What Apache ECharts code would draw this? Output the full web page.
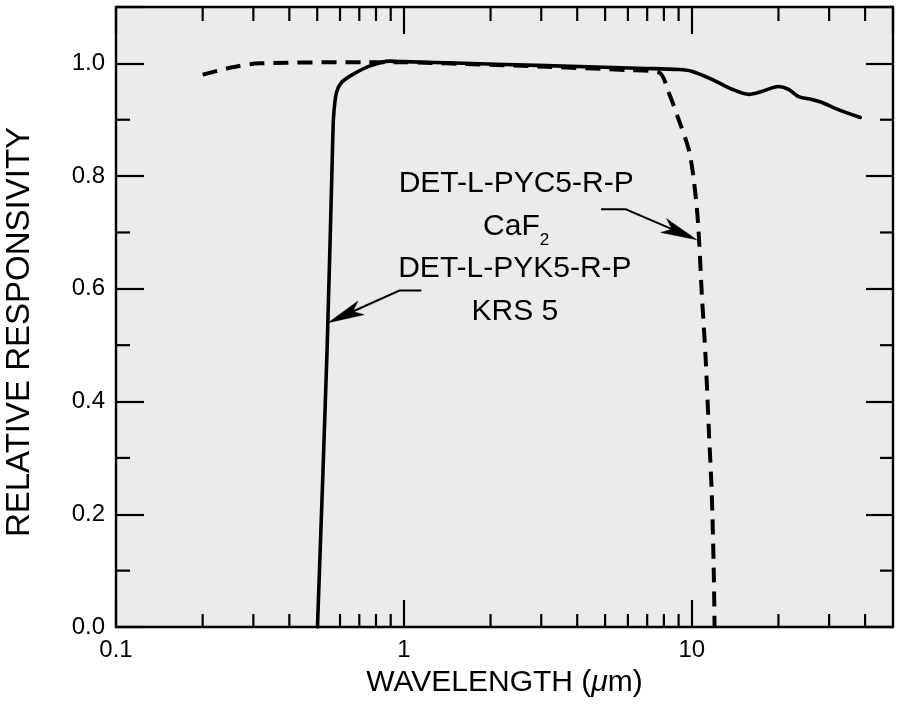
<!DOCTYPE html>
<html><head><meta charset="utf-8">
<script src="https://cdn.jsdelivr.net/npm/echarts@6/dist/echarts.min.js"></script>
<style>html,body{margin:0;padding:0;background:#fff}#c{width:899px;height:704px}</style>
</head><body><div id="c"></div>
<script>
// KRS 5 window (solid)
const krs5 = [[0.501,0.0],[0.541,0.492],[0.565,0.847],[0.570,0.906],[0.583,0.948],[0.607,0.966],[0.663,0.980],[0.759,0.995],[0.891,1.004],[1.0,1.003],[1.40,1.001],[3.12,0.996],[6.93,0.991],[9.02,0.989],[9.98,0.986],[11.7,0.972],[13.8,0.954],[15.8,0.945],[17.5,0.950],[20.0,0.959],[21.7,0.954],[23.5,0.941],[26.1,0.936],[28.2,0.931],[32.3,0.918],[38.5,0.904]];
// CaF2 window (dashed)
const caf2 = [[0.200,0.980],[0.254,0.993],[0.316,1.000],[0.741,1.002],[1.0,1.002],[1.40,1.000],[3.12,0.994],[6.0,0.988],[7.68,0.984],[8.32,0.948],[9.01,0.900],[9.76,0.847],[10.16,0.794],[10.51,0.718],[10.83,0.593],[11.18,0.474],[11.45,0.355],[11.73,0.238],[11.92,0.101],[12.0,0.0]];
// minor tick values
const xMinorTicks = [0.2,0.3,0.4,0.5,0.6,0.7,0.8,0.9,2,3,4,5,6,7,8,9,20,30,40];
const yMinorTicks = [0.1,0.3,0.5,0.7,0.9];
// annotations (data coords)
const annotTexts = ['DET-L-PYC5-R-P\nCaF{s|2}', 'DET-L-PYK5-R-P\nKRS 5'];
const annotPos = [[2.455,0.748],[2.43,0.597]];
const arrowPaths = [
  [[4.84,0.741],[5.90,0.741],[10.41,0.687]],
  [[1.15,0.597],[0.965,0.597],[0.546,0.540]]
];
const X_MIN = 0.1, X_MAX = 50, Y_MIN = 0, Y_MAX = 1.1;

const FONT = '"Liberation Sans", Arial, Helvetica, sans-serif';
const chart = echarts.init(document.getElementById('c'), null, {renderer:'canvas'});

function isPow10(v){ const l = Math.log10(v); return Math.abs(l - Math.round(l)) < 1e-6; }

const axisLine = {show:true, onZero:false, lineStyle:{color:'#000', width:2.4}};
const majorTick = {show:true, inside:true, length:27, lineStyle:{color:'#000', width:2.2}};

const option = {
  backgroundColor:'#fff',
  animation:false,
  grid:{left:116, right:6, top:7, bottom:77, show:true, backgroundColor:'#ebebeb', borderWidth:0,
    containLabel:false, outerBoundsMode:'none'},
  xAxis:[{
    type:'log', logBase:10, min:X_MIN, max:X_MAX, position:'bottom',
    axisLine, axisTick:majorTick, splitLine:{show:false}, minorTick:{show:false},
    axisLabel:{color:'#000', fontSize:24, fontFamily:FONT, margin:11, showMaxLabel:false,
      formatter:v=> isPow10(v) ? String(+(+v).toPrecision(3)) : ''},
    name:'WAVELENGTH ({i|μ}m)', nameLocation:'middle', nameGap:41,
    nameTextStyle:{color:'#000', fontSize:30, fontFamily:FONT,
      rich:{i:{fontStyle:'italic', fontSize:30, fontFamily:FONT, color:'#000'}}}
  },{
    type:'log', logBase:10, min:X_MIN, max:X_MAX, position:'top',
    axisLine, axisTick:majorTick, axisLabel:{show:false}, splitLine:{show:false}
  }],
  yAxis:[{
    type:'value', min:Y_MIN, max:Y_MAX, interval:0.2, position:'left',
    axisLine, axisTick:{...majorTick, length:28}, splitLine:{show:false},
    axisLabel:{color:'#000', fontSize:24, fontFamily:FONT, margin:11,
      formatter:v=> v > 1.05 ? '' : v.toFixed(1)},
    name:'RELATIVE RESPONSIVITY', nameLocation:'middle', nameGap:80,
    nameTextStyle:{color:'#000', fontSize:33, fontFamily:FONT, padding:[0,30,0,0]}
  },{
    type:'value', min:Y_MIN, max:Y_MAX, interval:0.2, position:'right',
    axisLine, axisTick:{...majorTick, length:27}, axisLabel:{show:false}, splitLine:{show:false}
  }],
  series:[
    {
      type:'custom', name:'xminor', silent:true, z:5,
      data:xMinorTicks.map(v=>[v, Y_MIN]), encode:{x:0, y:1},
      renderItem:(params, api)=>{
        const v = api.value(0);
        const b = api.coord([v, Y_MIN]), t = api.coord([v, Y_MAX]);
        const st = {stroke:'#000', lineWidth:2.2};
        return {type:'group', children:[
          {type:'line', shape:{x1:b[0], y1:b[1], x2:b[0], y2:b[1]-13}, style:st},
          {type:'line', shape:{x1:t[0], y1:t[1], x2:t[0], y2:t[1]+14}, style:st}
        ]};
      }
    },
    {
      type:'custom', name:'yminor', silent:true, z:5,
      data:yMinorTicks.map(v=>[X_MIN, v]), encode:{x:0, y:1},
      renderItem:(params, api)=>{
        const v = api.value(1);
        const l = api.coord([X_MIN, v]), r = api.coord([X_MAX, v]);
        const st = {stroke:'#000', lineWidth:2.2};
        return {type:'group', children:[
          {type:'line', shape:{x1:l[0], y1:l[1], x2:l[0]+14, y2:l[1]}, style:st},
          {type:'line', shape:{x1:r[0], y1:r[1], x2:r[0]-13, y2:r[1]}, style:st}
        ]};
      }
    },
    {
      type:'line', name:'CaF2', data:caf2, showSymbol:false, symbol:'none', smooth:0.3, z:3,
      lineStyle:{color:'#000', width:4, type:[15,9], cap:'butt'}
    },
    {
      type:'line', name:'KRS5', data:krs5, showSymbol:false, symbol:'none', smooth:0.3, z:4,
      lineStyle:{color:'#000', width:3.6, cap:'round', join:'round'}
    },
    {
      type:'custom', name:'arrows', silent:true, z:6,
      data:arrowPaths.map((p,i)=>[p[p.length-1][0], p[p.length-1][1], i]), encode:{x:0, y:1},
      renderItem:(params, api)=>{
        const path = arrowPaths[api.value(2)];
        const pts = path.map(p=>api.coord(p));
        const tip = pts[pts.length-1], prev = pts[pts.length-2];
        const dx = tip[0]-prev[0], dy = tip[1]-prev[1];
        const len = Math.hypot(dx,dy), ux = dx/len, uy = dy/len;
        const px = -uy, py = ux;
        const L = 36, W = 7.5, N = 27;
        const back = [tip[0]-ux*L, tip[1]-uy*L];
        const notch = [tip[0]-ux*N, tip[1]-uy*N];
        const linePts = pts.slice(0, -1).concat([notch]);
        return {type:'group', children:[
          {type:'polyline', shape:{points:linePts}, style:{stroke:'#000', lineWidth:2, fill:null}},
          {type:'polygon', shape:{points:[tip, [back[0]+px*W, back[1]+py*W], notch, [back[0]-px*W, back[1]-py*W]]},
            style:{fill:'#000', stroke:'#000', lineWidth:0.5}}
        ]};
      }
    },
    {
      type:'scatter', name:'labels', silent:true, symbolSize:0, z:7,
      itemStyle:{opacity:1, color:'rgba(0,0,0,0)'},
      data:annotPos.map((p,i)=>({value:p, label:{formatter:annotTexts[i]}})),
      label:{show:true, position:'inside', color:'#000', opacity:1, fontSize:30, fontFamily:FONT,
        lineHeight:43, align:'center', verticalAlign:'middle',
        rich:{s:{fontSize:17, fontFamily:FONT, color:'#000', lineHeight:43, verticalAlign:'bottom'}}}
    }
  ]
};
chart.setOption(option);
</script></body></html>
